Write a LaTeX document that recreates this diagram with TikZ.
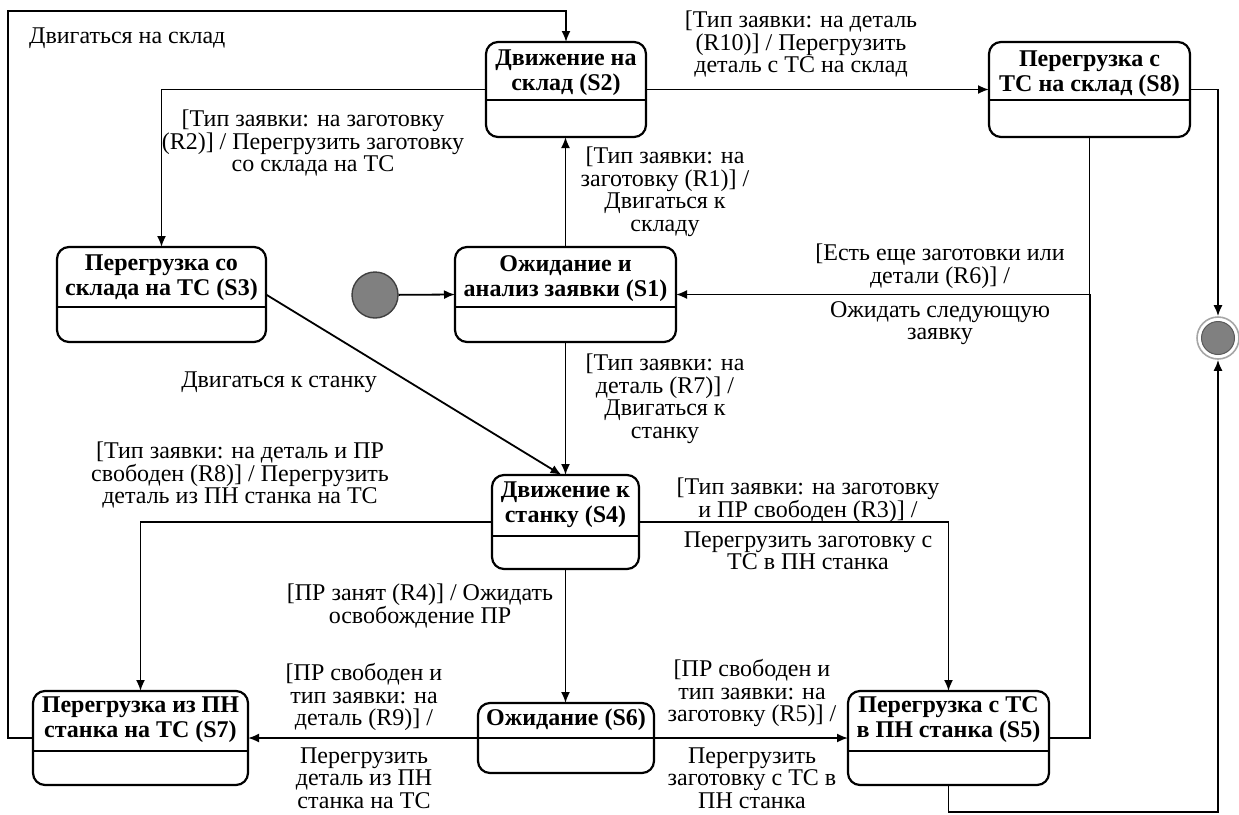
\documentclass[tikz,border=0pt]{standalone}
\usepackage{fontspec}
\setmainfont{Liberation Serif}
\usetikzlibrary{arrows.meta,calc}
\begin{document}
\begin{tikzpicture}[x=1pt,y=-1pt,
  stbox/.style={draw=black, line width=2.2pt, rounded corners=12pt, inner sep=0pt, outer sep=0pt},
  ttl/.style={font=\fontsize{24}{25}\selectfont\bfseries, align=center, inner sep=0pt},
  lbl/.style={font=\fontsize{24}{22.5}\selectfont, align=center, inner sep=0pt},
  conn/.style={line width=1.8pt, draw=black},
  arr/.style={conn, -{Latex[length=11pt,width=9pt]}},
  divl/.style={line width=2pt}
]
\useasboundingbox (0,0) rectangle (1239,814);

% states
\node[stbox, minimum width=160pt, minimum height=95pt] (s2) at (566,89.5) {};
\node[stbox, minimum width=201pt, minimum height=95pt] (s8) at (1089.5,89.5) {};
\node[stbox, minimum width=209pt, minimum height=95pt] (s3) at (161.5,294.5) {};
\node[stbox, minimum width=221pt, minimum height=95pt] (s1) at (565.5,294.5) {};
\node[stbox, minimum width=147pt, minimum height=94pt] (s4) at (565.5,522) {};
\node[stbox, minimum width=176pt, minimum height=70pt] (s6) at (566,738) {};
\node[stbox, minimum width=215pt, minimum height=94pt] (s7) at (140.5,738) {};
\node[stbox, minimum width=201pt, minimum height=94pt] (s5) at (948.5,738) {};

% dividers
\coordinate (d1) at (0,100);
\coordinate (d2) at (0,307);
\coordinate (d3) at (0,536);
\coordinate (d4) at (0,738);
\coordinate (d5) at (0,751);
\draw[divl] (s2.west |- d1) -- (s2.east |- d1);
\draw[divl] (s8.west |- d1) -- (s8.east |- d1);
\draw[divl] (s3.west |- d2) -- (s3.east |- d2);
\draw[divl] (s1.west |- d2) -- (s1.east |- d2);
\draw[divl] (s4.west |- d3) -- (s4.east |- d3);
\draw[divl] (s6.west |- d4) -- (s6.east |- d4);
\draw[divl] (s7.west |- d5) -- (s7.east |- d5);
\draw[divl] (s5.west |- d5) -- (s5.east |- d5);

% titles
\node[ttl] (s2t) at (566,73) {Движение на\\склад (S2)};
\node[ttl] (s8t) at (1089.5,74) {Перегрузка с\\ТС на склад (S8)};
\node[ttl] (s3t) at (161.5,278) {Перегрузка со\\склада на ТС (S3)};
\node[ttl] (s1t) at (565.5,279) {Ожидание и\\анализ заявки (S1)};
\node[ttl] (s4t) at (565.5,505) {Движение к\\станку (S4)};
\node[ttl] (s6t) at (566,720) {Ожидание (S6)};
\node[ttl] (s7t) at (140.5,720) {Перегрузка из ПН\\станка на ТС (S7)};
\node[ttl] (s5t) at (948.5,720) {Перегрузка с ТС\\в ПН станка (S5)};

% pseudo states
\node[circle, draw=black!75, line width=1.4pt, fill=black!50, minimum size=46pt, inner sep=0pt] (ini) at (375,295) {};
\node[circle, draw=black!35, line width=1.6pt, fill=white, minimum size=42pt, inner sep=0pt] (fin) at (1218,338) {};
\node[circle, draw=black!65, line width=1pt, fill=black!50, minimum size=33pt, inner sep=0pt] (fini) at (fin) {};

% connectors
\coordinate (tl) at (8,11);
\coordinate (j) at (1090,294.5);
\coordinate (bt) at (0,812);
\draw[arr] (s7.west) -| (tl) -| (s2.north);
\draw[arr] (s2.west) -| (s3.north);
\draw[arr] (s2.east) -- (s8.west);
\draw[arr] (s8.east) -| (fin.north);
\draw[arr] (s1.north) -- (s1.north |- s2.south);
\draw[arr] (s1.south) -- (s1.south |- s4.north);
\draw[arr] (ini) -- (s1.west);
\draw[conn] (s8.south) -- (s8.south |- j);
\draw[arr] (s5.east) -| (j) -- (s1.east);
\draw[arr] (s3.east) -- ([xshift=-4pt]s4.north);
\draw[arr] (s4.west) -| (s7.north);
\draw[arr] (s4.east) -| (s5.north);
\draw[arr] (s4.south) -- (s4.south |- s6.north);
\draw[arr] (s6.west) -- (s7.east);
\draw[arr] (s6.east) -- (s5.west);
\draw[arr] (s5.south) -- (s5.south |- bt) -| (fin.south);

% labels
\node[lbl, anchor=west] (l0) at (29,38) {Двигаться на склад};
\node[lbl] (l2) at (313,143) {[Тип заявки: на заготовку\\(R2)] / Перегрузить заготовку\\со склада на ТС};
\node[lbl] (l10) at (801,44) {[Тип заявки: на деталь\\(R10)] / Перегрузить\\деталь с ТС на склад};
\node[lbl] (l1) at (665,192) {[Тип заявки: на\\заготовку (R1)] /\\Двигаться к\\складу};
\node[lbl] (l6a) at (940,266) {[Есть еще заготовки или\\детали (R6)] /};
\node[lbl] (l6b) at (940,323) {Ожидать следующую\\заявку};
\node[lbl] (l7) at (665,399) {[Тип заявки: на\\деталь (R7)] /\\Двигаться к\\станку};
\node[lbl] (ls) at (279,382) {Двигаться к станку};
\node[lbl] (l8) at (240,475) {[Тип заявки: на деталь и ПР\\свободен (R8)] / Перегрузить\\деталь из ПН станка на ТС};
\node[lbl] (l3a) at (808,500) {[Тип заявки: на заготовку\\и ПР свободен (R3)] /};
\node[lbl] (l3b) at (808,551) {Перегрузить заготовку с\\ТС в ПН станка};
\node[lbl] (l4) at (420,606) {[ПР занят (R4)] / Ожидать\\освобождение ПР};
\node[lbl] (l9a) at (364,697) {[ПР свободен и\\тип заявки: на\\деталь (R9)] /};
\node[lbl] (l9b) at (364,778) {Перегрузить\\деталь из ПН\\станка на ТС};
\node[lbl] (l5a) at (752,693) {[ПР свободен и\\тип заявки: на\\заготовку (R5)] /};
\node[lbl] (l5b) at (752,778) {Перегрузить\\заготовку с ТС в\\ПН станка};
\end{tikzpicture}
\end{document}
